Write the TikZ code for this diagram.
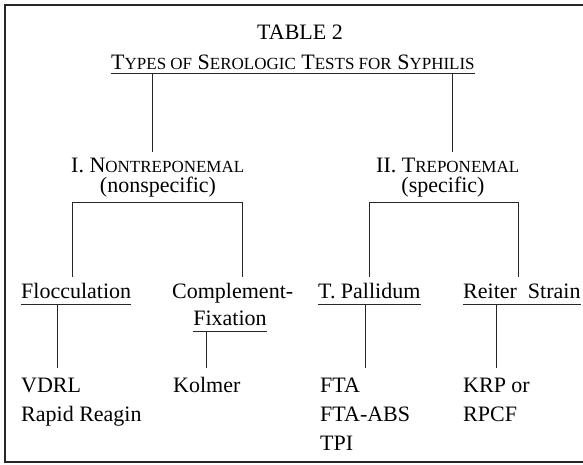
\documentclass[tikz,border=0pt]{standalone}
\usepackage{fontspec}
\setmainfont{Liberation Serif}
\usetikzlibrary{calc}
% faux small caps for the headings
\newcommand{\lowcaps}[1]{{\fontsize{17pt}{20pt}\selectfont #1}}

\begin{document}
\begin{tikzpicture}[x=1pt, y=-1pt,
    txt/.style={inner xsep=0pt, inner ysep=5pt, anchor=base west,
                font=\fontsize{22pt}{26pt}\selectfont},
    head/.style={txt, anchor=base},
    kind/.style={txt, inner ysep=6pt},
    leaf/.style={txt, inner ysep=9pt},
    link/.style={line width=0.9pt, black!85},
    ul/.style={line width=1pt, black!85},
]
    \useasboundingbox (0,0) rectangle (583,465);
    % frame (right edge runs off the page)
    \draw[line width=2.5pt, black!85] (583,5) -- (5,5) -- (5,462) -- (583,462);

    % title
    \node[head] (tab) at (300,40) {TABLE 2};
    \node[txt] (sub) at (111,70) {T\lowcaps{YPES OF} S\lowcaps{EROLOGIC} T\lowcaps{ESTS FOR} S\lowcaps{YPHILIS}};
    \draw[ul] ([yshift=-4pt]sub.base west) -- ([yshift=-4pt]sub.base east);

    % the two groups
    \node[txt] (non) at (71,172) {I. N\lowcaps{ONTREPONEMAL}};
    \node[head] (nonsp) at (158,193) {(nonspecific)};
    \node[txt] (tre) at (376,172) {II. T\lowcaps{REPONEMAL}};
    \node[head] (spec) at (443,193) {(specific)};
    \coordinate (jL) at (152,74);
    \coordinate (jR) at (452,74);
    \draw[link] (jL) -- (jL |- non.north);
    \draw[link] (jR) -- (jR |- tre.north);

    % kinds of test
    \node[kind] (floc) at (21,298) {Flocculation};
    \node[kind] (comp) at (172,298) {Complement-};
    \node[head, inner ysep=6pt] (fix) at (230,325) {Fixation};
    \node[kind] (pall) at (318,298) {T. Pallidum};
    \node[kind] (reit) at (463,298) {Reiter\ \ Strain};
    \draw[link] ([xshift=-4pt]floc.north) |- (nonsp.south) -| ([xshift=10pt]comp.north);
    \draw[link] (pall.north) |- (spec.south) -| ([xshift=-3pt]reit.north);
    \foreach \n in {floc,fix,pall,reit}
        \draw[ul] (\n.south west) -- (\n.south east);

    % the tests
    \node[leaf] (vdrl) at (21,392) {VDRL};
    \node[leaf] (rapid) at (21,421) {Rapid Reagin};
    \node[leaf] (kolm) at (173,392) {Kolmer};
    \node[leaf] (fta) at (320,392) {FTA};
    \node[leaf] (ftaabs) at (320,421) {FTA-ABS};
    \node[leaf] (tpi) at (320,450) {TPI};
    \node[leaf] (krp) at (463,392) {KRP or};
    \node[leaf] (rpcf) at (463,421) {RPCF};
    \draw[link] ([xshift=6pt]vdrl.north) -- ([xshift=6pt]vdrl.north |- floc.south);
    \draw[link] (kolm.north) -- (kolm.north |- fix.south);
    \draw[link] (fta.north -| ftaabs.north) -- (pall.south -| ftaabs.north);
    \draw[link] (krp.north) -- (krp.north |- reit.south);
\end{tikzpicture}
\end{document}
